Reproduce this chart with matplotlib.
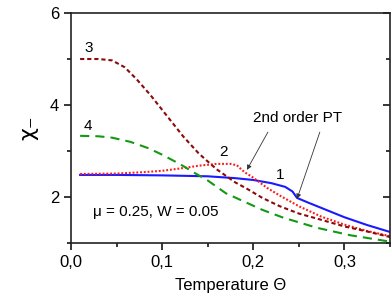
import matplotlib
matplotlib.use("Agg")
import matplotlib.pyplot as plt
from matplotlib.ticker import MultipleLocator

plt.rcParams['font.family'] = ['Liberation Sans', 'DejaVu Sans']

# Curve 1 (blue solid)
theta1 = [0.01, 0.05, 0.10, 0.15, 0.18, 0.20, 0.22, 0.235, 0.243, 0.248, 0.26, 0.28, 0.30, 0.325, 0.35]
chi1 = [2.48, 2.48, 2.47, 2.45, 2.41, 2.37, 2.30, 2.22, 2.12, 1.98, 1.88, 1.72, 1.56, 1.39, 1.24]

# Curve 2 (red dotted)
theta2 = [0.01, 0.05, 0.08, 0.10, 0.12, 0.14, 0.16, 0.175, 0.182, 0.188, 0.192, 0.20, 0.215, 0.23, 0.25, 0.275, 0.30, 0.325, 0.35]
chi2 = [2.50, 2.51, 2.54, 2.57, 2.62, 2.68, 2.72, 2.72, 2.69, 2.58, 2.52, 2.42, 2.20, 2.02, 1.80, 1.57, 1.40, 1.26, 1.15]

# Curve 3 (dark red dashed)
theta3 = [0.01, 0.03, 0.045, 0.059, 0.072, 0.087, 0.101, 0.123, 0.14, 0.153, 0.16, 0.18, 0.193, 0.21, 0.229, 0.25, 0.27, 0.30, 0.325, 0.35]
chi3 = [5.00, 5.00, 4.97, 4.82, 4.56, 4.22, 3.87, 3.32, 2.95, 2.72, 2.60, 2.32, 2.18, 1.98, 1.80, 1.64, 1.53, 1.36, 1.25, 1.13]

# Curve 4 (green dashed)
theta4 = [0.01, 0.03, 0.045, 0.065, 0.085, 0.10, 0.12, 0.135, 0.15, 0.17, 0.19, 0.21, 0.233, 0.27, 0.306, 0.35]
chi4 = [3.33, 3.32, 3.29, 3.20, 3.06, 2.92, 2.71, 2.53, 2.36, 2.08, 1.90, 1.72, 1.55, 1.33, 1.17, 1.03]

xticks = [0.0, 0.1, 0.2, 0.3]
xticklabels = ['0,0', '0,1', '0,2', '0,3']
yticks = [2, 4, 6]

fig = plt.figure(figsize=(3.92, 3.03), dpi=100)
ax = fig.add_axes([71/392, 1-243/303, (390-71)/392, (243-13)/303])

ax.plot(theta1, chi1, color='#1a1aff', lw=1.5, ls='-')
ax.plot(theta2, chi2, color='#ff1a1a', lw=1.5, ls=(0, (0.9, 0.9)))
ax.plot(theta3, chi3, color='#8b0a0a', lw=1.5, ls=(0, (2.0, 1.4)))
ax.plot(theta4, chi4, color='#129a12', lw=1.5, ls=(0, (4.4, 2.9)))

ax.set_xlim(0, 0.35)
ax.set_ylim(1, 6)
ax.set_xticks(xticks)
ax.set_xticklabels(xticklabels)
ax.set_yticks(yticks)
ax.xaxis.set_minor_locator(MultipleLocator(0.05))
ax.yaxis.set_minor_locator(MultipleLocator(1))

ax.tick_params(axis='both', which='major', labelsize=12, length=5, width=1.1, direction='out')
ax.tick_params(axis='both', which='minor', length=3, width=1.1, direction='out')
ax.tick_params(axis='y', which='both', right=True)
for t in ax.yaxis.get_major_ticks() + ax.yaxis.get_minor_ticks():
    t.tick2line.set_marker(matplotlib.lines.TICKLEFT)
for s in ax.spines.values():
    s.set_linewidth(1.2)
    s.set_color('#222222')

ax.set_xlabel('Temperature Θ', fontsize=12, labelpad=6)
ax.set_ylabel('χ₋', fontsize=16, labelpad=8, family=['DejaVu Sans'])

ax.text(0.019, 5.24, '3', fontsize=11, ha='center', va='center')
ax.text(0.019, 3.54, '4', fontsize=11, ha='center', va='center')
ax.text(0.167, 2.98, '2', fontsize=11, ha='center', va='center')
ax.text(0.229, 2.48, '1', fontsize=11, ha='center', va='center')
ax.text(0.024, 1.67, 'μ = 0.25, W = 0.05', fontsize=11, ha='left', va='center')
ax.text(0.249, 3.72, '2nd order PT', fontsize=11, ha='center', va='center')

arrow = dict(arrowstyle='-|>', color='#333333', lw=0.6, mutation_scale=7, shrinkA=0, shrinkB=0)
ax.annotate('', xy=(0.193, 2.59), xytext=(0.216, 3.41), arrowprops=arrow)
ax.annotate('', xy=(0.248, 1.96), xytext=(0.273, 3.41), arrowprops=arrow)

fig.savefig('out.png', dpi=100)
